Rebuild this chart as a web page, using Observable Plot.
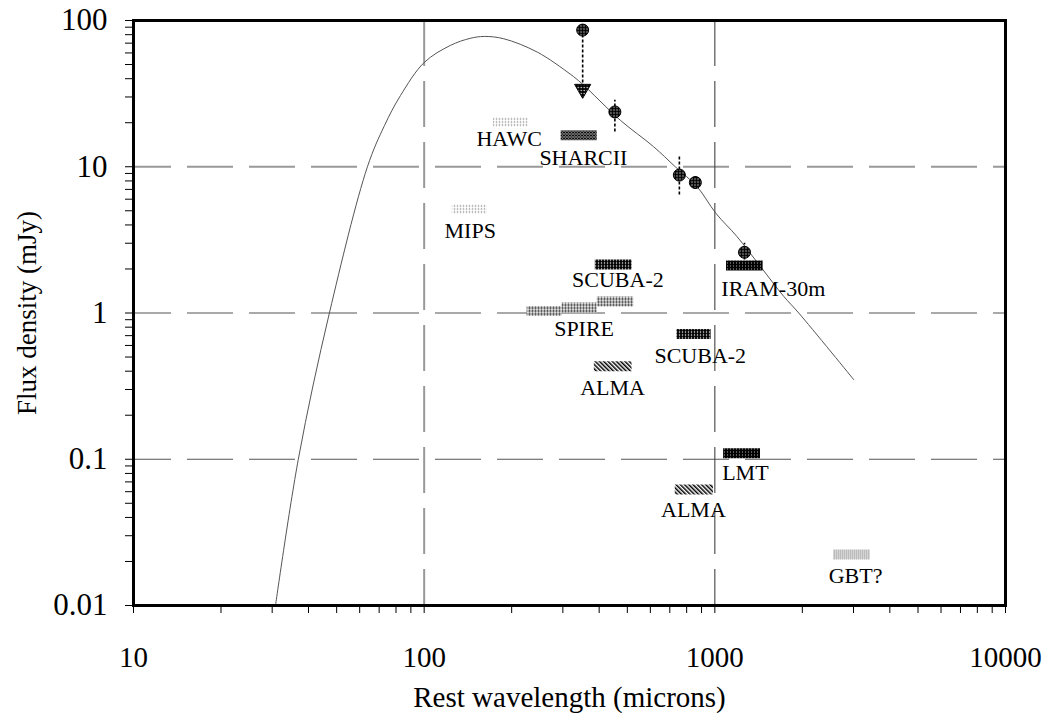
<!DOCTYPE html>
<html><head><meta charset="utf-8">
<script src="https://cdn.jsdelivr.net/npm/d3@7"></script>
<script src="https://cdn.jsdelivr.net/npm/@observablehq/plot@0.6"></script>
<style>body{margin:0;background:#fff} svg{display:block}</style>
</head><body><div id="chart"></div>
<script>
// ---- SED curve ----
const curveWavelength = [30.8, 36.9, 47.2, 63.8, 73.0, 82.9, 100, 123, 144, 161, 188, 245, 318, 349, 473, 616, 731, 869, 1009, 1192, 1435, 1726, 1944, 3006];
const curveFlux       = [0.01, 0.1, 1.0, 10, 19.1, 30.7, 51.6, 67.5, 75.5, 77.8, 75, 60.8, 43, 37, 20.8, 13.7, 10, 7.3, 4.8, 3.33, 2.08, 1.30, 1.0, 0.35];

// ---- measured points with error bars ----
const detWavelength = [453, 755, 857, 1265];
const detFlux       = [23.7, 8.77, 7.8, 2.6];
const detLow        = [17.3, 6.4, 7.0, 2.3];
const detHigh       = [28.5, 12.0, 8.6, 3.0];

// ---- upper limit ----
const limitWavelength = [351];
const limitFlux       = [86];
const limitValue      = [34];

// ---- instrument sensitivity bars ----
const barInstrument = ["HAWC", "SHARCII", "MIPS", "SCUBA-2", "SPIRE", "SPIRE", "SPIRE", "IRAM-30m", "SCUBA-2", "ALMA", "LMT", "ALMA", "GBT?"];
const barMinWave    = [173, 296, 125, 388, 226, 298, 394, 1097, 741, 385, 1072, 731, 2560];
const barMaxWave    = [229, 394, 165, 519, 298, 394, 526, 1466, 971, 519, 1436, 989, 3430];
const barFlux       = [20.2, 16.4, 5.14, 2.15, 1.03, 1.09, 1.20, 2.11, 0.719, 0.433, 0.110, 0.062, 0.0223];

// ---- instrument labels ----
const labelText       = ["HAWC", "SHARCII", "MIPS", "SCUBA-2", "SPIRE", "IRAM-30m", "SCUBA-2", "ALMA", "LMT", "ALMA", "GBT?"];
const labelWavelength = [196, 353, 144, 464, 355, 1589, 891, 445, 1274, 844, 3048];
const labelFlux       = [15.6, 11.4, 3.66, 1.67, 0.783, 1.47, 0.508, 0.305, 0.080, 0.0453, 0.0160];

// ---- axes ----
const xMajorTicks = [10, 100, 1000, 10000];
const xMinorTicks = [20,30,40,50,60,70,80,90,200,300,400,500,600,700,800,900,2000,3000,4000,5000,6000,7000,8000,9000];
const yMajorTicks = [0.01, 0.1, 1, 10, 100];
const yMinorTicks = [0.02,0.03,0.04,0.05,0.06,0.07,0.08,0.09,0.2,0.3,0.4,0.5,0.6,0.7,0.8,0.9,2,3,4,5,6,7,8,9,20,30,40,50,60,70,80,90];
const yTickLabels = ["0.01", "0.1", "1", "10", "100"];
const xTickLabels = ["10", "100", "1000", "10000"];
const xTitle = "Rest wavelength (microns)";
const yTitle = "Flux density (mJy)";

// ---- tables built from the arrays ----
const curve = curveWavelength.map((w, i) => ({w, f: curveFlux[i]}));
const dets = detWavelength.map((w, i) => ({w, f: detFlux[i], lo: detLow[i], hi: detHigh[i]}));
const limits = limitWavelength.map((w, i) => ({w, f: limitFlux[i], lim: limitValue[i]}));
const bars = barInstrument.map((name, i) => ({name, x1: barMinWave[i], x2: barMaxWave[i], f: barFlux[i]}));
const labels = labelText.map((t, i) => ({t, w: labelWavelength[i], f: labelFlux[i]}));

const patternFor = {
  "HAWC": "url(#pLight)", "MIPS": "url(#pLight)", "GBT?": "url(#pLight2)",
  "SHARCII": "url(#pCross)", "SCUBA-2": "url(#pDark)", "SPIRE": "url(#pMed)",
  "IRAM-30m": "url(#pBlack)", "LMT": "url(#pBlack)", "ALMA": "url(#pHatch)"
};

const serif = "'Liberation Serif', 'Times New Roman', Times, serif";

const svg = Plot.plot({
  width: 1047, height: 713,
  marginLeft: 133, marginRight: 42, marginTop: 20, marginBottom: 108,
  style: {fontFamily: serif, background: "white", color: "black"},
  x: {type: "log", domain: [10, 10000], label: null},
  y: {type: "log", domain: [0.01, 100], label: null},
  color: {type: "identity"},
  marks: [
    // grid
    Plot.ruleY([10], {stroke: "#999", strokeWidth: 2, strokeDasharray: "46,16", strokeDashoffset: 8}),
    Plot.ruleY([1, 0.1], {stroke: "#555", strokeWidth: 1.1, strokeDasharray: "46,16", strokeDashoffset: 8}),
    Plot.ruleX([100], {stroke: "#999", strokeWidth: 2, strokeDasharray: "46,15"}),
    Plot.ruleX([1000], {stroke: "#444", strokeWidth: 1.1, strokeDasharray: "46,15"}),
    // axes
    Plot.axisX({ticks: xMajorTicks, tickFormat: d => xTickLabels[xMajorTicks.indexOf(d)], tickSize: 8, tickPadding: 33, fontSize: 29, label: null}),
    Plot.axisX({ticks: xMinorTicks, tickFormat: () => "", tickSize: 8, label: null}),
    Plot.axisY({ticks: yMajorTicks, tickFormat: d => yTickLabels[yMajorTicks.indexOf(d)], tickSize: 8, tickPadding: 18, fontSize: 31, label: null}),
    Plot.axisY({ticks: yMinorTicks, tickFormat: () => "", tickSize: 8, label: null}),
    // SED curve
    Plot.line(curve, {x: "w", y: "f", stroke: "#555", strokeWidth: 1, curve: "catmull-rom"}),
    // instrument bars
    Plot.ruleY(bars, {x1: "x1", x2: "x2", y: "f", stroke: d => patternFor[d.name], strokeWidth: 10}),
    Plot.text(labels, {x: "w", y: "f", text: "t", fontSize: 22, fill: "black"}),
    // error bars and limit
    Plot.ruleX(dets, {x: "w", y1: "lo", y2: "hi", stroke: "black", strokeWidth: 1.6, strokeDasharray: "3,2"}),
    Plot.ruleX(limits, {x: "w", y1: "f", y2: "lim", stroke: "black", strokeWidth: 1.6, strokeDasharray: "3,2"}),
    Plot.dot(dets, {x: "w", y: "f", r: 6, fill: "url(#pMarker)", stroke: "black", strokeWidth: 1}),
    Plot.dot(limits, {x: "w", y: "f", r: 6, fill: "url(#pMarker)", stroke: "black", strokeWidth: 1}),
    Plot.dot(limits, {x: "w", y: "lim", symbol: "triangle", rotate: 180, r: 6, fill: "url(#pMarker)", stroke: "black", strokeWidth: 1}),
    // titles
    Plot.text([yTitle], {text: d => d, frameAnchor: "left", textAnchor: "middle", lineAnchor: "middle", dx: -106, rotate: -90, fontSize: 27, fill: "black"}),
    Plot.text([xTitle], {text: d => d, frameAnchor: "bottom", textAnchor: "middle", lineAnchor: "middle", dy: 92, fontSize: 29, fill: "black"}),
    Plot.frame({stroke: "black", strokeWidth: 3})
  ]
});

svg.insertAdjacentHTML("afterbegin", `<defs>
  <pattern id="pLight" width="3" height="3" patternUnits="userSpaceOnUse">
    <rect width="3" height="3" fill="white"/><circle cx="1.5" cy="1.5" r="0.8" fill="#888"/>
  </pattern>
  <pattern id="pLight2" width="2" height="2" patternUnits="userSpaceOnUse">
    <rect width="2" height="2" fill="white"/><rect width="1" height="1" fill="#777"/><rect x="1" y="1" width="1" height="1" fill="#aaa"/>
  </pattern>
  <pattern id="pMed" width="3" height="3" patternUnits="userSpaceOnUse">
    <rect width="3" height="3" fill="#eee"/><circle cx="1.5" cy="1.5" r="1.1" fill="#222"/>
  </pattern>
  <pattern id="pDark" width="3" height="3" patternUnits="userSpaceOnUse">
    <rect width="3" height="3" fill="#000"/><circle cx="1.5" cy="1.5" r="0.75" fill="white"/>
  </pattern>
  <pattern id="pBlack" width="3" height="3" patternUnits="userSpaceOnUse">
    <rect width="3" height="3" fill="#000"/><circle cx="1.5" cy="1.5" r="0.6" fill="#ccc"/>
  </pattern>
  <pattern id="pCross" width="3" height="3" patternUnits="userSpaceOnUse">
    <rect width="3" height="3" fill="white"/>
    <path d="M0,0L3,3M3,0L0,3" stroke="#000" stroke-width="1.1"/>
  </pattern>
  <pattern id="pHatch" width="3" height="3" patternUnits="userSpaceOnUse" patternTransform="rotate(-45)">
    <rect width="3" height="3" fill="white"/><rect width="1.5" height="3" fill="#000"/>
  </pattern>
  <pattern id="pMarker" width="3" height="3" patternUnits="userSpaceOnUse">
    <rect width="3" height="3" fill="#000"/><circle cx="1.5" cy="1.5" r="0.7" fill="white"/>
  </pattern>
</defs>`);

document.getElementById("chart").appendChild(svg);
</script>
</body></html>
